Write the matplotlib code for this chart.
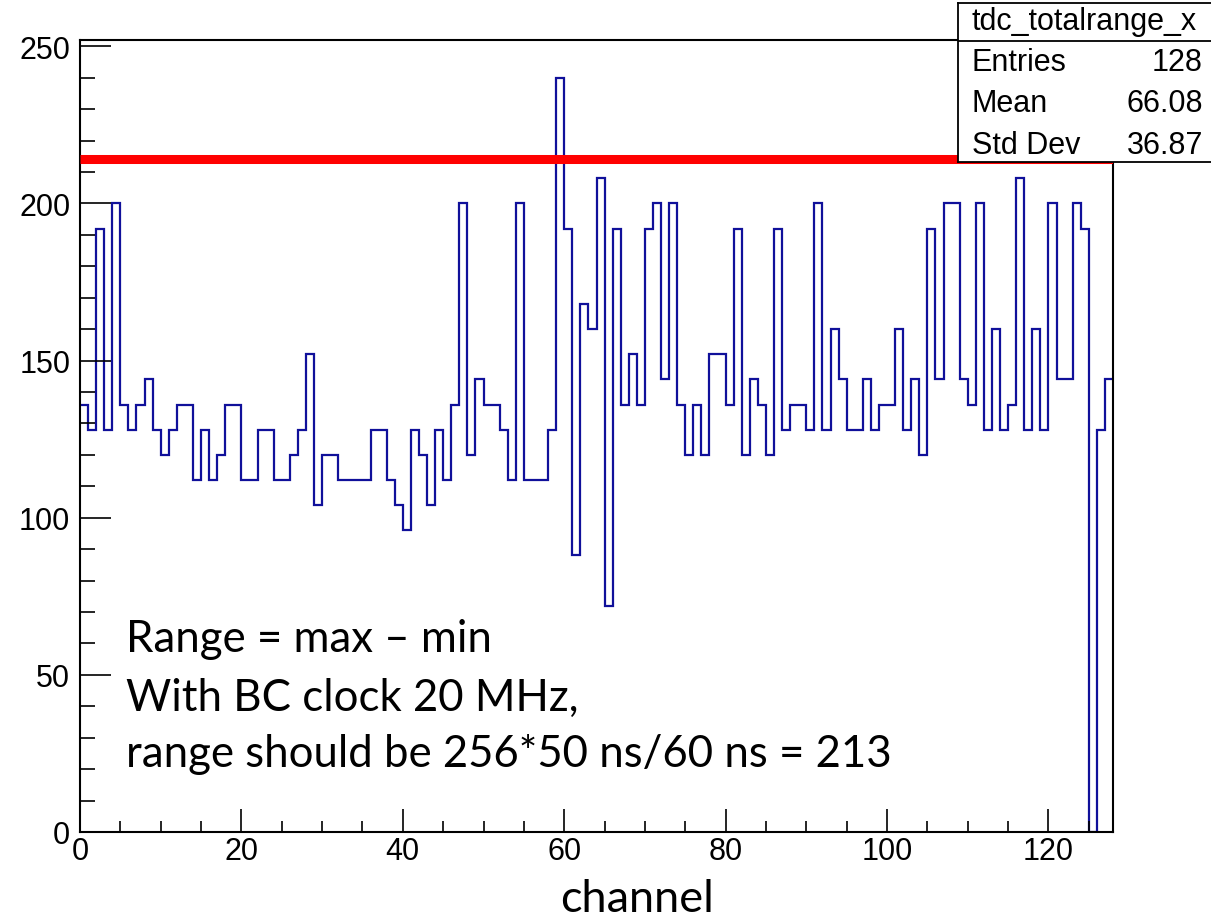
import numpy as np
import matplotlib
matplotlib.use('Agg')
import matplotlib.pyplot as plt
from matplotlib.ticker import MultipleLocator

# bin contents of tdc_totalrange_x, one per channel (0..127)
counts = [136, 128, 192, 128, 200, 136, 128, 136, 144, 128,
          120, 128, 136, 136, 112, 128, 112, 120, 136, 136,
          112, 112, 128, 128, 112, 112, 120, 128, 152, 104,
          120, 120, 112, 112, 112, 112, 128, 128, 112, 104,
          96, 128, 120, 104, 128, 112, 136, 200, 120, 144,
          136, 136, 128, 112, 200, 112, 112, 112, 128, 240,
          192, 88, 168, 160, 208, 72, 192, 136, 152, 136,
          192, 200, 144, 200, 136, 120, 136, 120, 152, 152,
          136, 192, 120, 144, 136, 120, 192, 128, 136, 136,
          128, 200, 128, 160, 144, 128, 128, 144, 128, 136,
          136, 160, 128, 144, 120, 192, 144, 200, 200, 144,
          136, 200, 128, 160, 128, 136, 208, 128, 160, 128,
          200, 144, 144, 200, 192, 0, 128, 144]
edges = np.arange(len(counts) + 1)
expected_range = 214

stat_labels = ['Entries', 'Mean', 'Std Dev']
stat_values = ['128', '66.08', '36.87']
hist_name = 'tdc_totalrange_x'

note_lines = ['Range = max \u2013 min',
              'With BC clock 20 MHz,',
              'range should be 256*50 ns/60 ns = 213']

W, H = 1211, 920
fig = plt.figure(figsize=(W / 100, H / 100), dpi=100)
ax = fig.add_axes([80 / W, 1 - 833 / H, (1113 - 80) / W, (833 - 41) / H])

ax.stairs(counts, edges, color='#10109a', lw=1.6, baseline=None)
ax.hlines(expected_range, 0, 128, color='red', lw=6.5, zorder=3)

ax.set_xlim(0, 128)
ax.set_ylim(0, 252)
ax.xaxis.set_major_locator(MultipleLocator(20))
ax.xaxis.set_minor_locator(MultipleLocator(5))
ax.yaxis.set_major_locator(MultipleLocator(50))
ax.yaxis.set_minor_locator(MultipleLocator(10))

for s in ax.spines.values():
    s.set_linewidth(1.5)
ax.tick_params(axis='both', which='both', direction='in', width=1.2,
               top=False, right=False)
ax.tick_params(axis='y', which='major', length=22, pad=7)
ax.tick_params(axis='y', which='minor', length=11)
ax.tick_params(axis='x', which='major', length=16.5, pad=3)
ax.tick_params(axis='x', which='minor', length=8)
for lab in ax.get_yticklabels() + ax.get_xticklabels():
    lab.set_family(['Liberation Sans', 'DejaVu Sans'])
    lab.set_fontsize(22)

# note text and axis title (slide overlay)
base_y = [652, 711, 767]
for line, yb in zip(note_lines, base_y):
    fig.text(126 / W, 1 - yb / H, line, fontsize=31.5, family='Lato',
             va='baseline', ha='left')
fig.text(637 / W, 1 - 912 / H, 'channel', fontsize=32.5, family='Lato',
         va='baseline', ha='center')

# stats box
sb = fig.add_axes([958 / W, 1 - 163 / H, (1215 - 958) / W, (163 - 4) / H])
sb.set_zorder(5)
sb.set_xlim(0, 1)
sb.set_ylim(0, 1)
sb.set_xticks([])
sb.set_yticks([])
for s in sb.spines.values():
    s.set_linewidth(1.3)
sep = (163 - 42) / 159
sb.axhline(sep, color='black', lw=1.3)
sb.text(0.49, (163 - 22) / 159, hist_name, ha='center', va='center',
        fontsize=22, family='Liberation Sans')
for lab, val, yc in zip(stat_labels, stat_values, [63, 104, 146]):
    yy = (163 - yc) / 159
    sb.text(0.054, yy, lab, ha='left', va='center', fontsize=22,
            family='Liberation Sans')
    sb.text(0.953, yy, val, ha='right', va='center', fontsize=22,
            family='Liberation Sans')

fig.savefig('out.png', dpi=100)
